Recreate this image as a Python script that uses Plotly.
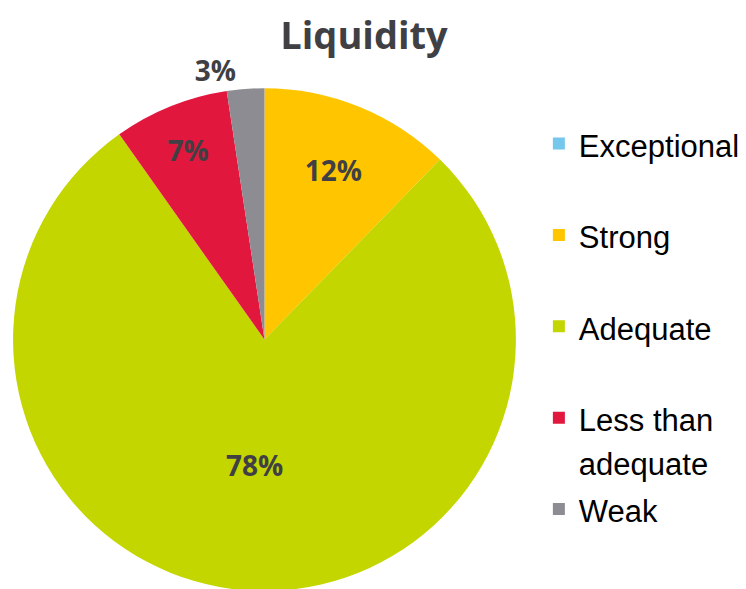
import plotly.graph_objects as go

categories = ["Exceptional", "Strong", "Adequate", "Less than<br>adequate", "Weak"]
shares = [0, 12.3, 77.9, 7.4, 2.4]
pct_labels = ["", "12%", "78%", "7%", "3%"]
colors = ["#75C8EB", "#FFC600", "#C4D600", "#E2173E", "#8E8C93"]
text_pos = ["none", "inside", "inside", "inside", "outside"]

LEG = 31
def legend_label(name, last=False):
    extra = "" if (last or "<br>" in name) else "<br> "
    return f'<span style="font-size:{LEG}px">{name}</span>{extra}'

leg_labels = [legend_label(c, i == len(categories) - 1) for i, c in enumerate(categories)]

fig = go.Figure(go.Pie(
    labels=leg_labels,
    values=shares,
    text=pct_labels,
    textinfo="text",
    textposition=text_pos,
    insidetextorientation="horizontal",
    sort=False,
    direction="clockwise",
    rotation=0,
    marker=dict(colors=colors, line=dict(width=0)),
    textfont=dict(family="Open Sans", size=28, color="#404044", weight="bold"),
    domain=dict(x=[2/746, 507/746], y=[0, 508/589]),
    showlegend=True,
    hoverinfo="none",
))

fig.update_layout(
    width=746, height=589,
    margin=dict(l=0, r=0, t=0, b=0),
    paper_bgcolor="white",
    plot_bgcolor="white",
    title=dict(text="<b>Liquidity</b>", x=356/746, xanchor="center",
               y=1 - 28/589, yanchor="middle", yref="container",
               font=dict(family="Open Sans", size=38, color="#404044")),
    legend=dict(x=530/746, xanchor="left", y=1 - 108/589, yanchor="top",
                font=dict(family="Liberation Sans, Arial", size=34, color="#000000"),
                valign="top", traceorder="normal", bgcolor="rgba(0,0,0,0)"),
)

fig.write_html("out.html")
